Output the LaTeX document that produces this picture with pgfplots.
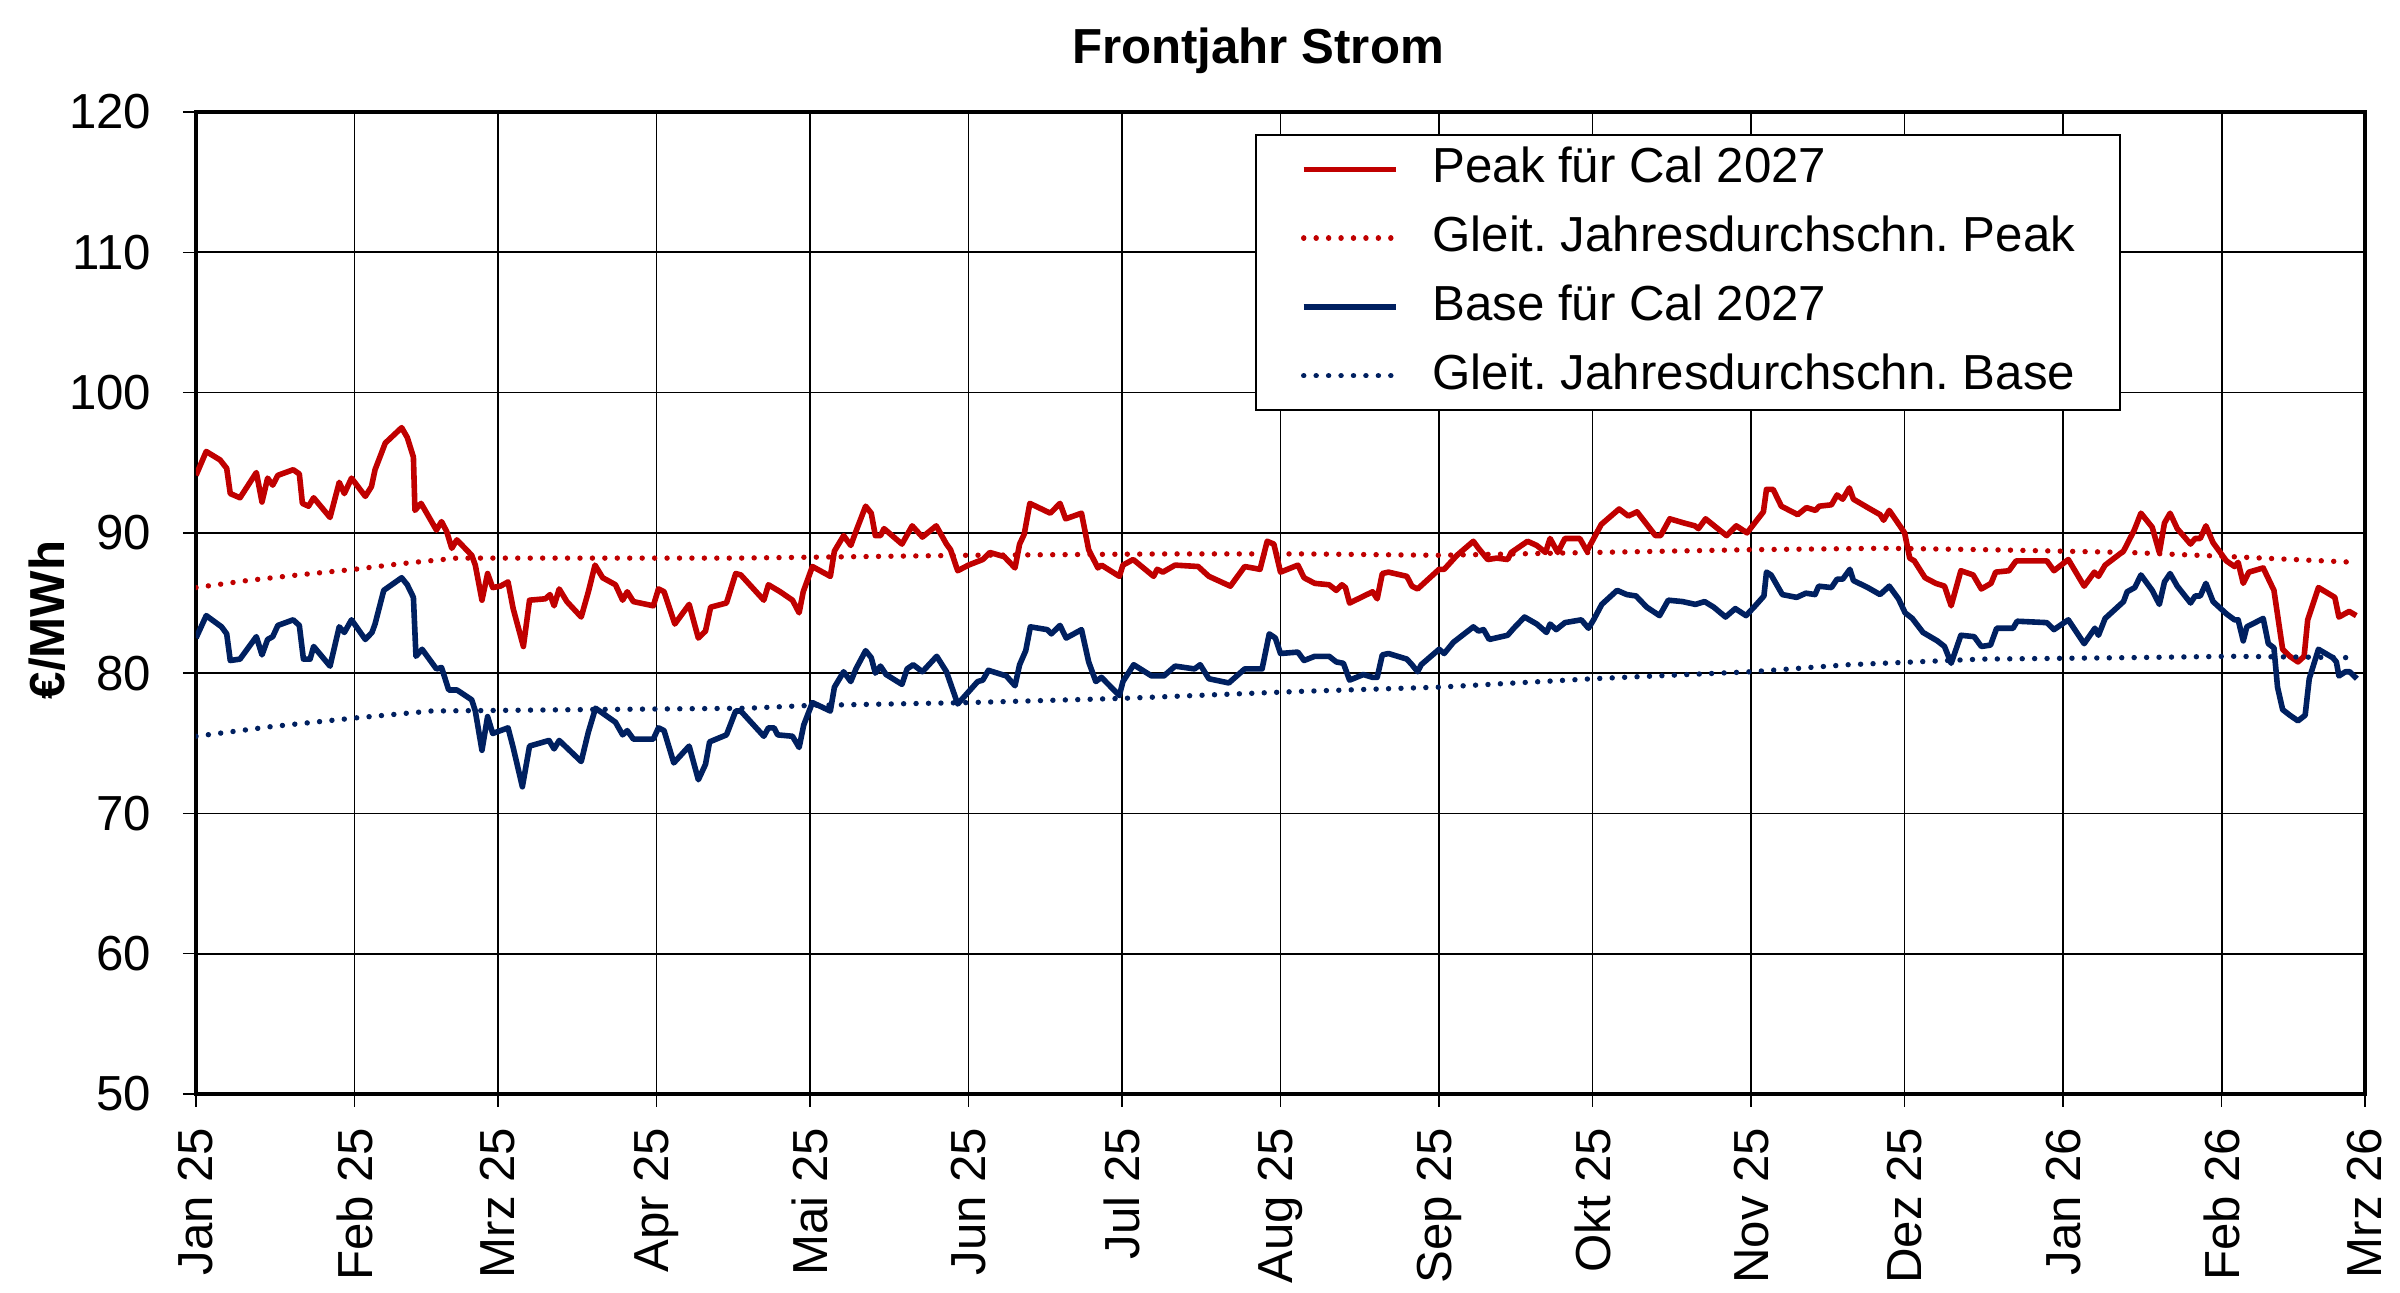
\documentclass[border=0pt]{standalone}
\usepackage{fontspec}
\setmainfont{Liberation Sans}
\usepackage{pgfplots}
\pgfplotsset{compat=1.18}
\definecolor{peakred}{HTML}{C00000}
\definecolor{baseblue}{HTML}{002060}
\frenchspacing
\begin{document}
\begin{tikzpicture}
\useasboundingbox (0,0) rectangle (600pt,323.25pt);
\begin{axis}[
  at={(49pt,49.75pt)}, anchor=south west,
  scale only axis, width=542.25pt, height=245.5pt,
  xmin=0, xmax=424, ymin=50, ymax=120,
  xtick={0,31,59,90,120,151,181,212,243,273,304,334,365,396,424},
  xticklabels={Jan 25,Feb 25,Mrz 25,Apr 25,Mai 25,Jun 25,Jul 25,Aug 25,Sep 25,Okt 25,Nov 25,Dez 25,Jan 26,Feb 26,Mrz 26},
  ytick={50,60,...,120},
  /pgf/number format/assume math mode=true,
  tick label style={font=\fontsize{12.3}{14}\selectfont},
  xticklabel style={yshift=-5pt, rotate=90, anchor=east, inner sep=0pt},
  yticklabel style={anchor=east, inner sep=0pt, xshift=-7.75pt},
  tick align=outside, tick pos=left,
  major tick length=3.25pt,
  tick style={black, line width=0.35pt},
  grid=major,
  major grid style={black, line width=0.4pt},
  axis line style={black, line width=1pt},
  legend cell align=left,
  legend image code/.code={\draw[#1] (0pt,0pt) -- (23pt,0pt);},
  legend style={
    at={(0.4882,0.9776)}, anchor=north west,
    draw=black, line width=0.5pt,
    inner xsep=11.25pt, inner ysep=0pt,
    font=\fontsize{12.3}{14}\selectfont,
    row sep=0pt,
    nodes={inner sep=0pt, minimum height=17.2pt, text height=9pt, text depth=2.3pt},
    /tikz/every odd column/.append style={column sep=8.5pt},
  },
  solidline/.style={line width=1.4pt, line join=round},
  dotline/.style={line width=1.35pt, line cap=round, dash pattern=on 0.01pt off 3.1pt},
]
% Peak
\addplot[solidline, peakred] coordinates {
(0,94.1)(2,95.8)(4.7,95.2)(6,94.6)(6.7,92.8)(8.6,92.5)(11.8,94.3)(12.9,92.2)(14,93.9)(15,93.4)(16,94.1)(19,94.5)(20.2,94.2)(20.8,92.1)(22,91.9)(23,92.5)(26.2,91.1)(28,93.6)(29,92.8)(30.4,93.9)(33.1,92.6)(34.3,93.3)(35,94.5)(37,96.4)(40.2,97.5)(41.3,96.8)(42.5,95.4)(42.8,91.6)(44,92.1)(47,90.2)(48,90.8)(49,90.1)(50,88.9)(51,89.5)(53.9,88.4)(54.6,87.7)(55.9,85.2)(57,87.1)(58,86.1)(59.5,86.2)(61,86.5)(62,84.6)(64,81.9)(65.2,85.2)(68.3,85.3)(69.2,85.6)(70,84.8)(71,86.0)(72.5,85.1)(75.3,84.0)(76.7,85.8)(78,87.7)(79.5,86.8)(82,86.3)(83.4,85.2)(84.3,85.8)(85.5,85.1)(89.4,84.8)(90.4,86.0)(91.5,85.8)(93.6,83.5)(96.4,84.9)(98.2,82.5)(99.6,83.0)(100.6,84.7)(103.7,85.0)(105.5,87.1)(106.5,87.0)
(111,85.2)(111.9,86.3)(114.2,85.8)(116.6,85.2)(117.9,84.3)(118.7,85.8)(120.5,87.6)(124,86.9)(124.8,88.7)(126.6,89.8)(128,89.1)(129,90.1)(130.9,91.9)(132,91.4)(132.8,89.8)(133.8,89.8)(134.5,90.3)(138,89.2)(140,90.5)(142,89.7)(144.7,90.5)(146.7,89.2)(147.5,88.8)(148.9,87.3)(151,87.7)(153.8,88.1)(155.2,88.6)(158,88.3)(160.1,87.5)(161,89.2)(161.9,89.9)(163,92.1)(167,91.4)(168.9,92.1)(170,91.0)(173.1,91.4)(174.5,88.8)(176.3,87.5)(177,87.7)(180.5,86.9)(181.2,87.7)(183.2,88.1)(187.2,86.9)(187.9,87.4)(189,87.2)(191.4,87.7)(195.9,87.6)(198,86.9)(202.2,86.2)(205,87.6)(208,87.4)(209.4,89.4)(210.7,89.2)(212,87.2)(215.4,87.7)
(216.6,86.8)(218.7,86.4)(221.5,86.3)(222.9,85.9)(224,86.3)(224.7,86.1)(225.5,85.0)(230,85.8)(230.9,85.3)(231.9,87.1)(233.1,87.2)(236.7,86.9)(237.7,86.2)(238.8,86.0)(243,87.4)(244,87.4)(246.5,88.4)(249.7,89.4)(250.7,88.9)(252.5,88.1)(254.3,88.2)(256.4,88.1)(257.1,88.6)(260.3,89.4)(262.1,89.1)(263.8,88.6)(264.7,89.6)(266.2,88.6)(267.6,89.6)(270.5,89.6)(271.9,88.7)(274.7,90.6)(278.2,91.7)(280,91.2)(281.7,91.5)(285.3,89.8)(286.3,89.8)(288.1,91.0)(290.9,90.7)(293,90.5)(293.7,90.3)(295.1,91.0)(296.8,90.5)(299.2,89.8)(301.1,90.5)(303.2,90.0)(306.4,91.5)(307,93.1)(308.3,93.1)(309.9,91.9)(313.1,91.3)(314.8,91.8)(316.6,91.6)(317.3,91.9)(319.7,92.0)(320.8,92.7)(321.9,92.4)(323.2,93.2)
(324,92.4)(326.8,91.8)(329.2,91.3)(329.9,90.9)(331,91.6)(332.7,90.7)(334,90.0)(335,88.2)(335.9,88.0)(338,86.8)(340.1,86.4)(341.8,86.2)(343.1,84.8)(345,87.3)(347.4,87.0)(349,86.0)(350.9,86.4)(351.8,87.2)(354.4,87.3)(355.8,88.0)(361.8,88.0)(363.2,87.3)(366,88.1)(369.1,86.2)(371.1,87.2)(371.9,86.9)(373.2,87.7)(376.8,88.7)(378.9,90.2)(380.2,91.4)(382.4,90.4)(383.8,88.6)(384.8,90.7)(385.9,91.4)(387.3,90.3)(389.9,89.2)(390.8,89.6)(391.8,89.6)(392.9,90.5)(394.3,89.3)(396.9,88.0)(398.5,87.6)(399.2,87.9)(400.2,86.4)(401.3,87.2)(404.1,87.5)(406.2,85.9)(407.9,81.7)(409.3,81.2)(410.9,80.8)(412.1,81.2)(412.8,83.8)(414.9,86.1)(418.1,85.4)(418.9,84.0)(420.9,84.4)(422.3,84.1)
};
\addlegendentry{Peak für Cal 2027}
% Peak moving average
\addplot[dotline, peakred] coordinates {
(0,86.1)(10,86.6)(20,87.0)(31,87.4)(40,87.8)(51,88.2)(70,88.2)(90,88.2)(106,88.2)(151,88.4)(190,88.5)(216,88.5)(243,88.4)(273,88.6)(304,88.8)(330,88.9)(350,88.8)(378,88.6)(398,88.3)(422,87.9)
};
\addlegendentry{Gleit. Jahresdurchschn. Peak}
% Base
\addplot[solidline, baseblue] coordinates {
(0,82.5)(2,84.1)(5,83.3)(6,82.8)(6.7,80.9)(8.6,81.0)(11.8,82.6)(12.9,81.3)(14,82.4)(15,82.6)(16,83.4)(19,83.8)(20.2,83.4)(21,81.0)(22.3,81.0)(23,81.9)(26.2,80.5)(28,83.3)(29,82.9)(30.4,83.8)(33.1,82.4)(34.4,82.9)(35,83.5)(36.7,85.9)(40.2,86.8)(41.3,86.3)(42.5,85.4)(43,81.2)(44.2,81.7)(47,80.3)(48,80.4)(49.4,78.8)(51,78.8)(53.9,78.1)(54.6,77.3)(55.9,74.5)(57,76.9)(58,75.7)(61,76.1)(62,74.7)(63.8,71.9)(65.2,74.8)(69,75.2)(70,74.6)(71,75.2)(75.3,73.7)(76.7,75.8)(78.1,77.5)(82,76.5)(83.4,75.6)(84.3,75.9)(85.5,75.3)(89.4,75.3)(90.4,76.1)(91.5,75.9)(93.4,73.6)(96.4,74.8)(98.2,72.4)(99.6,73.5)(100.4,75.1)(103.7,75.6)(105.5,77.3)(106.5,77.3)
(111,75.5)(111.9,76.1)(113,76.1)(113.7,75.6)(116.6,75.5)(117.9,74.7)(118.8,76.3)(120.5,77.9)(124,77.3)(124.8,79.0)(126.6,80.1)(128,79.4)(129,80.3)(130.9,81.6)(132,81.1)(132.8,80.0)(133.8,80.5)(134.9,79.9)(138,79.2)(139,80.3)(140.2,80.6)(142,80.1)(144.8,81.2)(146.7,80.1)(148.9,77.8)(152.8,79.4)(153.8,79.5)(154.9,80.2)(158.4,79.8)(160.1,79.1)(161,80.6)(162.2,81.6)(163.1,83.3)(166.4,83.1)(167.2,82.8)(168.9,83.4)(170.1,82.5)(173.1,83.1)(174.5,80.8)(175.9,79.4)(177,79.7)(180.5,78.4)(181.2,79.4)(183.3,80.6)(186.8,79.8)(189.2,79.8)(191.4,80.5)(195.2,80.3)(196.3,80.6)(198,79.6)(201.9,79.3)(205,80.3)(208.4,80.3)(209.8,82.8)(211,82.5)(212,81.4)(215.4,81.5)
(216.6,80.9)(218.7,81.2)(221.5,81.2)(222.9,80.8)(224.3,80.7)(225.5,79.5)(228.2,79.9)(230,79.7)(230.9,79.7)(231.9,81.3)(233.1,81.4)(236.7,81.0)(237.7,80.6)(238.8,80.1)(239.5,80.6)(243,81.7)(244,81.4)(245.8,82.2)(249.7,83.3)(250.7,83.0)(251.7,83.1)(252.8,82.4)(256.4,82.7)(257.6,83.2)(259.7,84.0)(262.1,83.5)(264,82.9)(264.7,83.5)(265.9,83.1)(267.6,83.6)(270.8,83.8)(272.2,83.2)(273.2,83.8)(274.8,84.9)(277.8,85.9)(279.7,85.6)(281.5,85.5)(283.6,84.7)(286.1,84.1)(287.8,85.2)(290.6,85.1)(293.1,84.9)(294.9,85.1)(296.7,84.7)(299,84.0)(300.9,84.6)(303,84.1)(304.8,84.8)(306.5,85.5)(307,87.2)(307.9,87.0)(310.1,85.6)(312.9,85.4)(314.7,85.7)(316.5,85.6)(317.2,86.2)(319.7,86.1)(320.8,86.7)(321.9,86.7)(323.3,87.4)
(324,86.6)(326.8,86.1)(329.2,85.6)(331,86.2)(332.8,85.3)(334.1,84.3)(335.5,83.9)(337.6,82.9)(340.4,82.3)(341.8,81.9)(343.1,80.7)(345,82.7)(347.6,82.6)(349,81.9)(350.8,82.0)(352,83.2)(355.2,83.2)(356,83.7)(361.8,83.6)(363.2,83.1)(366,83.8)(369.1,82.1)(371.2,83.2)(371.9,82.7)(373.2,83.9)(376.8,85.1)(377.5,85.8)(379,86.1)(380.2,87.0)(382.4,85.9)(383.8,84.9)(384.8,86.5)(385.9,87.1)(387.3,86.2)(389.9,85.0)(390.8,85.5)(391.8,85.5)(392.9,86.4)(394.3,85.1)(397,84.2)(398.5,83.8)(399.2,83.8)(400.2,82.3)(400.9,83.3)(404.1,83.9)(405.1,82.1)(406.2,81.8)(406.9,79.0)(407.9,77.4)(409.3,77.0)(410.9,76.6)(412.3,77.0)(413.1,79.6)(414.9,81.7)(417.7,81.1)(418.4,80.8)(418.9,79.8)(420.2,80.1)(421,80.1)(422.4,79.6)
};
\addlegendentry{Base für Cal 2027}
% Base moving average
\addplot[dotline, baseblue] coordinates {
(0,75.5)(15,76.2)(31,76.8)(46,77.3)(76,77.4)(108,77.5)(120,77.7)(151,77.9)(181,78.2)(216,78.7)(243,79.0)(273,79.6)(304,80.1)(323,80.6)(349,81.0)(377,81.1)(398,81.2)(422,81.1)
};
\addlegendentry{Gleit. Jahresdurchschn. Base}
\end{axis}
\node[font=\fontsize{12.3}{14}\selectfont\bfseries] at (314.5pt,310.6pt) {Frontjahr Strom};
\node[rotate=90, font=\fontsize{12.3}{14}\selectfont\bfseries] at (11.75pt,168.25pt) {€/MWh};
\end{tikzpicture}
\end{document}
